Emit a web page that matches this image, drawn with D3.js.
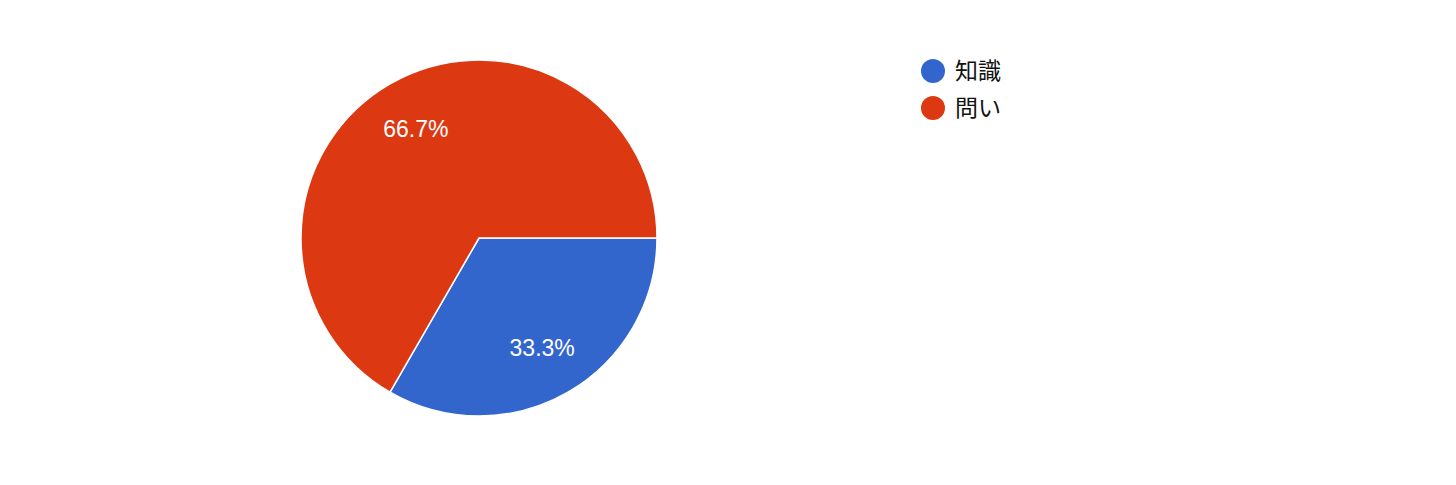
<!DOCTYPE html>
<html><head><meta charset="utf-8">
<script src="https://cdn.jsdelivr.net/npm/d3@7"></script>
<style>html,body{margin:0;padding:0;background:#fff;}</style>
</head><body>
<script>
const categories = ["知識", "問い"];
const values = [1, 2];
const colors = ["#3366CC", "#DC3912"];

const W = 1456, H = 485;
const cx = 479, cy = 238, r = 178;
const svg = d3.select("body").append("svg").attr("width", W).attr("height", H);
const g = svg.append("g").attr("transform", `translate(${cx},${cy})`);

const total = d3.sum(values);
const pie = d3.pie().sort(null).value(d => d)
  .startAngle(Math.PI / 2).endAngle(Math.PI / 2 + 2 * Math.PI);
const arcs = pie(values);
const arc = d3.arc().innerRadius(0).outerRadius(r);
const labelArc = d3.arc().innerRadius(r * 0.71).outerRadius(r * 0.71);

g.selectAll("path.slice").data(arcs).enter().append("path")
  .attr("d", arc).attr("fill", (d, i) => colors[i])
  .attr("stroke", "#fff").attr("stroke-width", 1.5);

g.selectAll("text.lbl").data(arcs).enter().append("text")
  .attr("transform", d => `translate(${labelArc.centroid(d)})`)
  .attr("text-anchor", "middle").attr("dy", "0.36em")
  .attr("fill", "#fff").attr("font-family", "Liberation Sans, Arial, sans-serif")
  .attr("font-size", 23)
  .text(d => (d.value / total * 100).toFixed(1) + "%");

const legend = svg.append("g").attr("transform", "translate(933,71)");
const items = legend.selectAll("g").data(categories).enter().append("g")
  .attr("transform", (d, i) => `translate(0,${i * 37})`);
items.append("circle").attr("r", 12).attr("fill", (d, i) => colors[i]);
items.append("text").attr("x", 22).attr("dy", "0.36em")
  .attr("font-family", "Noto Sans CJK JP, sans-serif").attr("font-size", 23)
  .attr("fill", "#111").text(d => d);
</script>
</body></html>
